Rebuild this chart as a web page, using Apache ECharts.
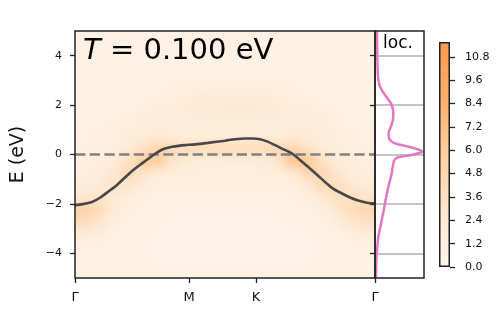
<!DOCTYPE html>
<html><head><meta charset="utf-8">
<script src="https://cdn.jsdelivr.net/npm/echarts@6/dist/echarts.min.js"></script>
<style>
html,body{margin:0;padding:0;background:#fff}
#wrap{position:relative;width:499px;height:309px}
#h{position:absolute;left:0;top:0;width:499px;height:309px;filter:blur(5px);}
#hc{position:absolute;left:0;top:0;width:499px;height:309px;clip-path:inset(31px 124px 31px 75px);}
#c{position:absolute;left:0;top:0;width:499px;height:309px}
</style>
</head><body><div id="wrap"><div id="hc"><div id="h"></div></div><div id="c"></div></div>
<script>
// ---- data ----
const kTickPos = [0, 114, 181, 300];
const kTickLabels = ['Γ', 'M', 'K', 'Γ'];
const eTicks = [-4, -2, 0, 2, 4];
const cbTicks = [0, 1.2, 2.4, 3.6, 4.8, 6.0, 7.2, 8.4, 9.6, 10.8];
const cbMax = 11.56;
const titleText = '0.100 eV';

const bandK = [0, 8, 17, 25, 33, 42, 50, 58, 67, 75, 83, 90, 97, 105, 110, 120, 133, 150, 160, 170, 178, 185, 192, 200, 208, 217, 225, 233, 242, 250, 258, 267, 275, 283, 292, 300];
const bandE = [-2.05, -2.01, -1.92, -1.75, -1.51, -1.23, -0.93, -0.64, -0.36, -0.12, 0.11, 0.24, 0.31, 0.36, 0.38, 0.41, 0.47, 0.56, 0.62, 0.65, 0.65, 0.62, 0.53, 0.38, 0.22, 0.04, -0.22, -0.5, -0.82, -1.11, -1.38, -1.58, -1.74, -1.86, -1.95, -1.98];

const dosE = [5.0, 4.0, 3.3, 3.0, 2.75, 2.53, 2.3, 2.07, 1.8, 1.52, 1.19, 0.85, 0.7, 0.58, 0.45, 0.34, 0.25, 0.15, 0.1, 0.05, -0.03, -0.13, -0.25, -0.36, -0.55, -0.77, -1.05, -1.31, -1.65, -1.98, -2.3, -2.66, -3.0, -3.34, -3.7, -4.0, -4.5, -5.0];
const dosVal = [0.02, 0.023, 0.028, 0.035, 0.05, 0.08, 0.12, 0.16, 0.18, 0.183, 0.165, 0.135, 0.14, 0.15, 0.2, 0.31, 0.4, 0.465, 0.47, 0.43, 0.35, 0.22, 0.19, 0.185, 0.175, 0.167, 0.15, 0.133, 0.115, 0.1, 0.085, 0.067, 0.05, 0.033, 0.024, 0.017, 0.012, 0.01];
const dosMax = 0.49;

// spectral-function cells: column centres (k) and row centres (E), values per row
const heatK = [7.5, 22.5, 37.5, 52.5, 67.5, 82.5, 97.5, 112.5, 127.5, 142.5, 157.5, 172.5, 187.5, 202.5, 217.5, 232.5, 247.5, 262.5, 277.5, 292.5];
const heatE = [4.75, 4.25, 3.75, 3.25, 2.75, 2.25, 1.75, 1.25, 0.75, 0.25, -0.25, -0.75, -1.25, -1.75, -2.25, -2.75, -3.25, -3.75, -4.25, -4.75];
const heatRows = [
  [0.6,0.6,0.6,0.6,0.6,0.6,0.6,0.6,0.6,0.6,0.6,0.6,0.6,0.6,0.6,0.6,0.6,0.6,0.6,0.6],
  [0.6,0.6,0.6,0.6,0.6,0.6,0.7,0.7,0.7,0.7,0.7,0.7,0.7,0.7,0.7,0.6,0.6,0.6,0.6,0.6],
  [0.6,0.6,0.6,0.7,0.7,0.7,0.7,0.8,0.8,0.8,0.8,0.8,0.8,0.8,0.7,0.7,0.7,0.6,0.6,0.6],
  [0.7,0.7,0.7,0.7,0.8,0.8,0.9,0.9,1.0,1.0,1.0,1.0,1.0,0.9,0.9,0.8,0.8,0.7,0.7,0.7],
  [0.7,0.7,0.8,0.8,0.9,1.0,1.1,1.2,1.3,1.4,1.4,1.4,1.3,1.2,1.1,1.0,0.9,0.8,0.7,0.7],
  [0.8,0.8,0.8,0.9,1.0,1.2,1.4,1.7,1.9,2.1,2.2,2.2,2.0,1.7,1.4,1.2,1.0,0.9,0.8,0.8],
  [0.8,0.9,1.0,1.1,1.3,1.5,1.8,2.0,2.2,2.4,2.5,2.5,2.3,2.0,1.7,1.5,1.3,1.1,0.9,0.8],
  [0.9,1.0,1.1,1.3,1.5,1.6,1.6,1.6,1.6,1.6,1.6,1.6,1.6,1.6,1.7,1.7,1.5,1.3,1.0,0.9],
  [1.0,1.1,1.2,1.5,1.8,1.9,1.7,1.6,1.6,1.6,1.6,1.6,1.6,1.6,1.8,2.0,1.8,1.4,1.1,1.0],
  [1.1,1.2,1.4,2.0,3.4,5.0,4.4,4.2,4.2,4.2,4.4,4.4,4.4,4.8,5.0,3.0,2.0,1.4,1.2,1.1],
  [1.2,1.3,1.8,3.4,6.0,6.4,3.0,2.0,1.8,1.8,1.8,1.8,1.9,2.8,7.0,6.6,3.4,2.0,1.5,1.3],
  [1.3,1.5,2.5,4.4,3.4,1.8,1.5,1.4,1.4,1.4,1.4,1.4,1.4,1.6,2.2,4.8,4.8,2.8,1.8,1.4],
  [1.6,2.0,3.4,3.0,1.7,1.3,1.2,1.2,1.2,1.2,1.2,1.2,1.2,1.2,1.4,2.1,4.4,4.0,2.4,1.8],
  [2.8,3.2,2.5,1.6,1.2,1.0,1.0,1.0,1.0,1.0,1.0,1.0,1.0,1.0,1.1,1.3,2.4,3.6,3.6,3.2],
  [5.6,4.6,2.2,1.3,1.0,0.8,0.8,0.8,0.8,0.8,0.8,0.8,0.8,0.8,0.9,1.0,1.4,2.8,4.4,5.0],
  [4.0,3.0,1.5,1.0,0.8,0.6,0.5,0.5,0.5,0.5,0.5,0.5,0.5,0.5,0.6,0.7,0.9,1.6,2.8,3.5],
  [1.8,1.5,1.0,0.8,0.6,0.5,0.4,0.4,0.4,0.4,0.4,0.4,0.4,0.4,0.5,0.5,0.7,1.0,1.4,1.7],
  [1.1,1.0,0.8,0.7,0.6,0.5,0.4,0.4,0.4,0.4,0.4,0.4,0.4,0.4,0.4,0.5,0.6,0.7,0.9,1.0],
  [0.9,0.8,0.7,0.6,0.6,0.5,0.5,0.4,0.4,0.4,0.4,0.4,0.4,0.4,0.5,0.5,0.6,0.6,0.7,0.8],
  [0.8,0.8,0.7,0.7,0.6,0.6,0.6,0.6,0.6,0.6,0.6,0.6,0.6,0.6,0.6,0.6,0.6,0.7,0.7,0.8]
];

// ---- build ----
const FONT = 'DejaVu Sans';
const TXT = '#111';
const oranges = ['#fff5eb', '#fee6ce', '#fdd0a2', '#fdae6b', '#fd9a4f'];
const heatData = [];
heatE.forEach((e, r) => heatK.forEach((k, c) => heatData.push([k, e, heatRows[r][c], r, c])));
const dk = heatK[1] - heatK[0];
const de = heatE[0] - heatE[1];
const bandData = bandK.map((k, i) => [k, bandE[i]]);
const dosData = dosE.map((e, i) => [dosVal[i], e]);
const kMin = kTickPos[0], kMax = kTickPos[kTickPos.length - 1];
const eMin = -5, eMax = 5;
const PLOT = {left: 75, top: 31, width: 300, height: 247};

// heat map layer (softened with a CSS blur, clipped to the plot area)
const hchart = echarts.init(document.getElementById('h'), null, {renderer: 'canvas'});
const PAD = 14; // edge cells are painted past the frame so the blur does not fade at the border
hchart.setOption({
  animation: false,
  grid: Object.assign({show: false}, PLOT),
  xAxis: {type: 'value', min: kMin, max: kMax, show: false},
  yAxis: {type: 'value', min: eMin, max: eMax, show: false},
  visualMap: {type: 'continuous', show: false, min: 0, max: cbMax, dimension: 2, seriesIndex: 0,
    inRange: {color: oranges}},
  series: [{type: 'custom', data: heatData, clip: false,
    encode: {x: 0, y: 1},
    renderItem: (params, api) => {
      const k = api.value(0), e = api.value(1), r = api.value(3), c = api.value(4);
      const p0 = api.coord([k - dk / 2, e + de / 2]);
      const p1 = api.coord([k + dk / 2, e - de / 2]);
      let x0 = p0[0], y0 = p0[1], x1 = p1[0] + 0.6, y1 = p1[1] + 0.6;
      if (c === 0) x0 -= PAD;
      if (c === heatK.length - 1) x1 += PAD;
      if (r === 0) y0 -= PAD;
      if (r === heatE.length - 1) y1 += PAD;
      return {type: 'rect', shape: {x: x0, y: y0, width: x1 - x0, height: y1 - y0},
        style: {fill: api.visual('color')}};
    }}]
});

// main layer
const chart = echarts.init(document.getElementById('c'), null, {renderer: 'canvas'});
const border = {show: true, borderColor: '#222', borderWidth: 1.5, backgroundColor: 'transparent', z: 10};
const tickStyle = {color: '#222', width: 1.3};
chart.setOption({
  animation: false,
  backgroundColor: 'transparent',
  textStyle: {fontFamily: FONT},
  grid: [
    Object.assign({}, PLOT, border),
    Object.assign({left: 375, top: 31, width: 49, height: 247}, border),
    {left: 439, top: 42, width: 11, height: 225, show: false}
  ],
  xAxis: [
    {gridIndex: 0, type: 'value', min: kMin, max: kMax, position: 'bottom',
     axisLine: {show: false, onZero: false},
     axisTick: {show: true, length: 5, inside: false, lineStyle: tickStyle, customValues: kTickPos},
     axisLabel: {show: true, customValues: kTickPos, margin: 13, fontSize: 13, color: TXT, fontFamily: FONT,
       formatter: v => kTickLabels[kTickPos.indexOf(v)]},
     splitLine: {show: false}},
    {gridIndex: 1, type: 'value', min: 0, max: dosMax, show: false, axisLine: {onZero: false}},
    {gridIndex: 2, type: 'category', data: ['c'], show: false}
  ],
  yAxis: [
    {gridIndex: 0, type: 'value', min: eMin, max: eMax,
     axisLine: {show: false, onZero: false},
     axisTick: {show: true, length: 5, lineStyle: tickStyle, customValues: eTicks},
     axisLabel: {show: true, customValues: eTicks, margin: 13, fontSize: 11, color: TXT, fontFamily: FONT,
       formatter: v => (v < 0 ? '\u2212' + (-v) : '' + v)},
     splitLine: {show: false},
     name: 'E (eV)', nameLocation: 'middle', nameGap: 47,
     nameTextStyle: {fontSize: 19, color: TXT, fontFamily: FONT}},
    {gridIndex: 1, type: 'value', min: eMin, max: eMax,
     axisLine: {show: false, onZero: false},
     axisTick: {show: true, length: 5, lineStyle: tickStyle, customValues: eTicks},
     axisLabel: {show: false},
     splitLine: {show: false}},
    {gridIndex: 2, type: 'value', min: 0, max: cbMax, position: 'right',
     axisLine: {show: false, onZero: false},
     axisTick: {show: true, length: 5, lineStyle: tickStyle, customValues: cbTicks},
     axisLabel: {show: true, customValues: cbTicks, margin: 15, fontSize: 11, color: TXT, fontFamily: FONT,
       formatter: v => v.toFixed(1)},
     splitLine: {show: false}}
  ],
  series: [
    {type: 'line', xAxisIndex: 0, yAxisIndex: 0, data: bandData, smooth: 0.3, showSymbol: false, z: 6,
     lineStyle: {color: '#474747', width: 2.6},
     markLine: {silent: true, symbol: 'none', z: 4, label: {show: false},
       lineStyle: {color: '#808080', width: 2.7, type: [10.3, 4.4]},
       data: [{yAxis: 0}]}},
    {type: 'line', xAxisIndex: 1, yAxisIndex: 1, data: dosData, smooth: 0.3, showSymbol: false, z: 6,
     lineStyle: {color: '#e377c2', width: 2.5},
     markLine: {silent: true, symbol: 'none', z: 1, label: {show: false},
       lineStyle: {color: '#b0b0b0', width: 1.5, type: 'solid'},
       data: eTicks.map(v => ({yAxis: v}))}},
    {type: 'bar', xAxisIndex: 2, yAxisIndex: 2, data: [cbMax], barWidth: '100%', z: 3,
     itemStyle: {borderColor: '#222', borderWidth: 1.5,
       color: new echarts.graphic.LinearGradient(0, 1, 0, 0,
         oranges.map((c, i) => ({offset: i / (oranges.length - 1), color: c})))}}
  ],
  graphic: [
    {type: 'text', left: 83, top: 37, z: 20,
     style: {text: '{i|T}{n| = ' + titleText + '}', rich: {
       i: {fontSize: 29, fontStyle: 'italic', fontFamily: FONT, fill: '#000'},
       n: {fontSize: 29, fontFamily: FONT, fill: '#000'}}}},
    {type: 'text', x: 398, y: 44, z: 20,
     style: {text: 'loc.', fontSize: 17, fontFamily: FONT, fill: '#000', align: 'center', verticalAlign: 'middle'}}
  ]
});
</script>
</body></html>
